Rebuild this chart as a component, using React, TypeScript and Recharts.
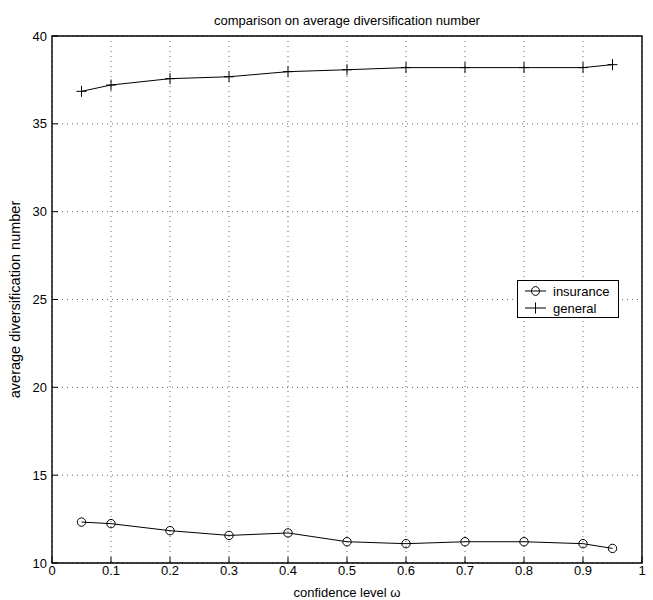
import { CartesianGrid, Legend, Line, LineChart, ReferenceArea, XAxis, YAxis } from 'recharts';

const omega = [0.05, 0.1, 0.2, 0.3, 0.4, 0.5, 0.6, 0.7, 0.8, 0.9, 0.95];
const insurance = [12.33, 12.24, 11.84, 11.57, 11.71, 11.21, 11.1, 11.21, 11.21, 11.1, 10.83];
const general = [36.85, 37.21, 37.57, 37.68, 37.97, 38.08, 38.2, 38.2, 38.2, 38.2, 38.37];
const xTicks = [0, 0.1, 0.2, 0.3, 0.4, 0.5, 0.6, 0.7, 0.8, 0.9, 1];
const yTicks = [10, 15, 20, 25, 30, 35, 40];

const data = omega.map((w, i) => ({ omega: w, insurance: insurance[i], general: general[i] }));

const FONT = '"Liberation Sans", Arial, Helvetica, sans-serif';
const tickStyle = { fill: '#000', fontSize: 13, fontFamily: FONT };

// "+" marker for the general series
const PlusDot = (props: any) => {
  const { cx, cy, index } = props;
  if (cx == null || cy == null) return <g key={`p-${index}`} />;
  return (
    <path
      key={`p-${index}`}
      d={`M${cx - 5},${cy}h10M${cx},${cy - 5.5}v11`}
      stroke="#000"
      strokeWidth={1}
      fill="none"
    />
  );
};

const LegendBox = () => (
  <div style={{ width: 102, height: 38, boxSizing: 'border-box', border: '1px solid #000', background: '#fff' }}>
    <svg width={100} height={36} style={{ display: 'block' }}>
      <line x1={7} x2={28} y1={10} y2={10} stroke="#000" />
      <ellipse cx={17.5} cy={10} rx={4} ry={4.4} fill="none" stroke="#000" />
      <text x={35} y={14.5} fontSize={13} fontFamily={FONT} fill="#000">insurance</text>
      <line x1={7} x2={28} y1={27} y2={27} stroke="#000" />
      <line x1={17.5} x2={17.5} y1={21.5} y2={32.5} stroke="#000" />
      <text x={35} y={31.5} fontSize={13} fontFamily={FONT} fill="#000">general</text>
    </svg>
  </div>
);

export default function App() {
  return (
    <div style={{ position: 'absolute', left: 0, top: 0, width: 653, height: 600, background: '#fff' }}>
      <div
        style={{
          position: 'absolute',
          left: 52,
          width: 590,
          top: 13,
          textAlign: 'center',
          fontFamily: FONT,
          fontSize: 13,
          lineHeight: '15px',
          color: '#000',
        }}
      >
        comparison on average diversification number
      </div>
      <LineChart width={653} height={600} data={data} margin={{ top: 35, right: 10, bottom: 0, left: 0 }}>
        <CartesianGrid stroke="#666" strokeDasharray="1 4" />
        <XAxis
          dataKey="omega"
          type="number"
          domain={[0, 1]}
          ticks={xTicks}
          interval={0}
          height={37}
          tickSize={-6}
          tickMargin={9}
          axisLine={false}
          tickLine={{ stroke: '#000' }}
          tick={tickStyle}
          label={{ value: 'confidence level ω', position: 'insideBottom', offset: 3, style: tickStyle }}
        />
        <XAxis
          xAxisId="top"
          orientation="top"
          type="number"
          domain={[0, 1]}
          ticks={xTicks}
          interval={0}
          height={1}
          tickSize={-6}
          axisLine={false}
          tickLine={{ stroke: '#000' }}
          tick={false}
        />
        <YAxis
          type="number"
          domain={[10, 40]}
          ticks={yTicks}
          interval={0}
          width={52}
          tickSize={-6}
          tickMargin={11}
          axisLine={false}
          tickLine={{ stroke: '#000' }}
          tick={tickStyle}
          label={{
            value: 'average diversification number',
            angle: -90,
            position: 'insideLeft',
            offset: 15,
            style: { ...tickStyle, fontSize: 14.5, textAnchor: 'middle' },
          }}
        />
        <YAxis
          yAxisId="right"
          orientation="right"
          type="number"
          domain={[10, 40]}
          ticks={yTicks}
          interval={0}
          width={1}
          tickSize={-6}
          axisLine={false}
          tickLine={{ stroke: '#000' }}
          tick={false}
        />
        <ReferenceArea x1={0} x2={1} y1={10} y2={40} fill="none" stroke="#000" strokeWidth={1.4} ifOverflow="visible" />
        <Line
          type="linear"
          dataKey="insurance"
          stroke="#000"
          strokeWidth={1}
          dot={{ r: 4.2, fill: 'none', stroke: '#000', strokeWidth: 1 }}
          isAnimationActive={false}
        />
        <Line
          type="linear"
          dataKey="general"
          stroke="#000"
          strokeWidth={1}
          dot={PlusDot}
          isAnimationActive={false}
        />
        <Legend
          layout="vertical"
          align="center"
          verticalAlign="middle"
          wrapperStyle={{ left: 517, top: 280, width: 102 }}
          content={LegendBox}
        />
      </LineChart>
    </div>
  );
}
